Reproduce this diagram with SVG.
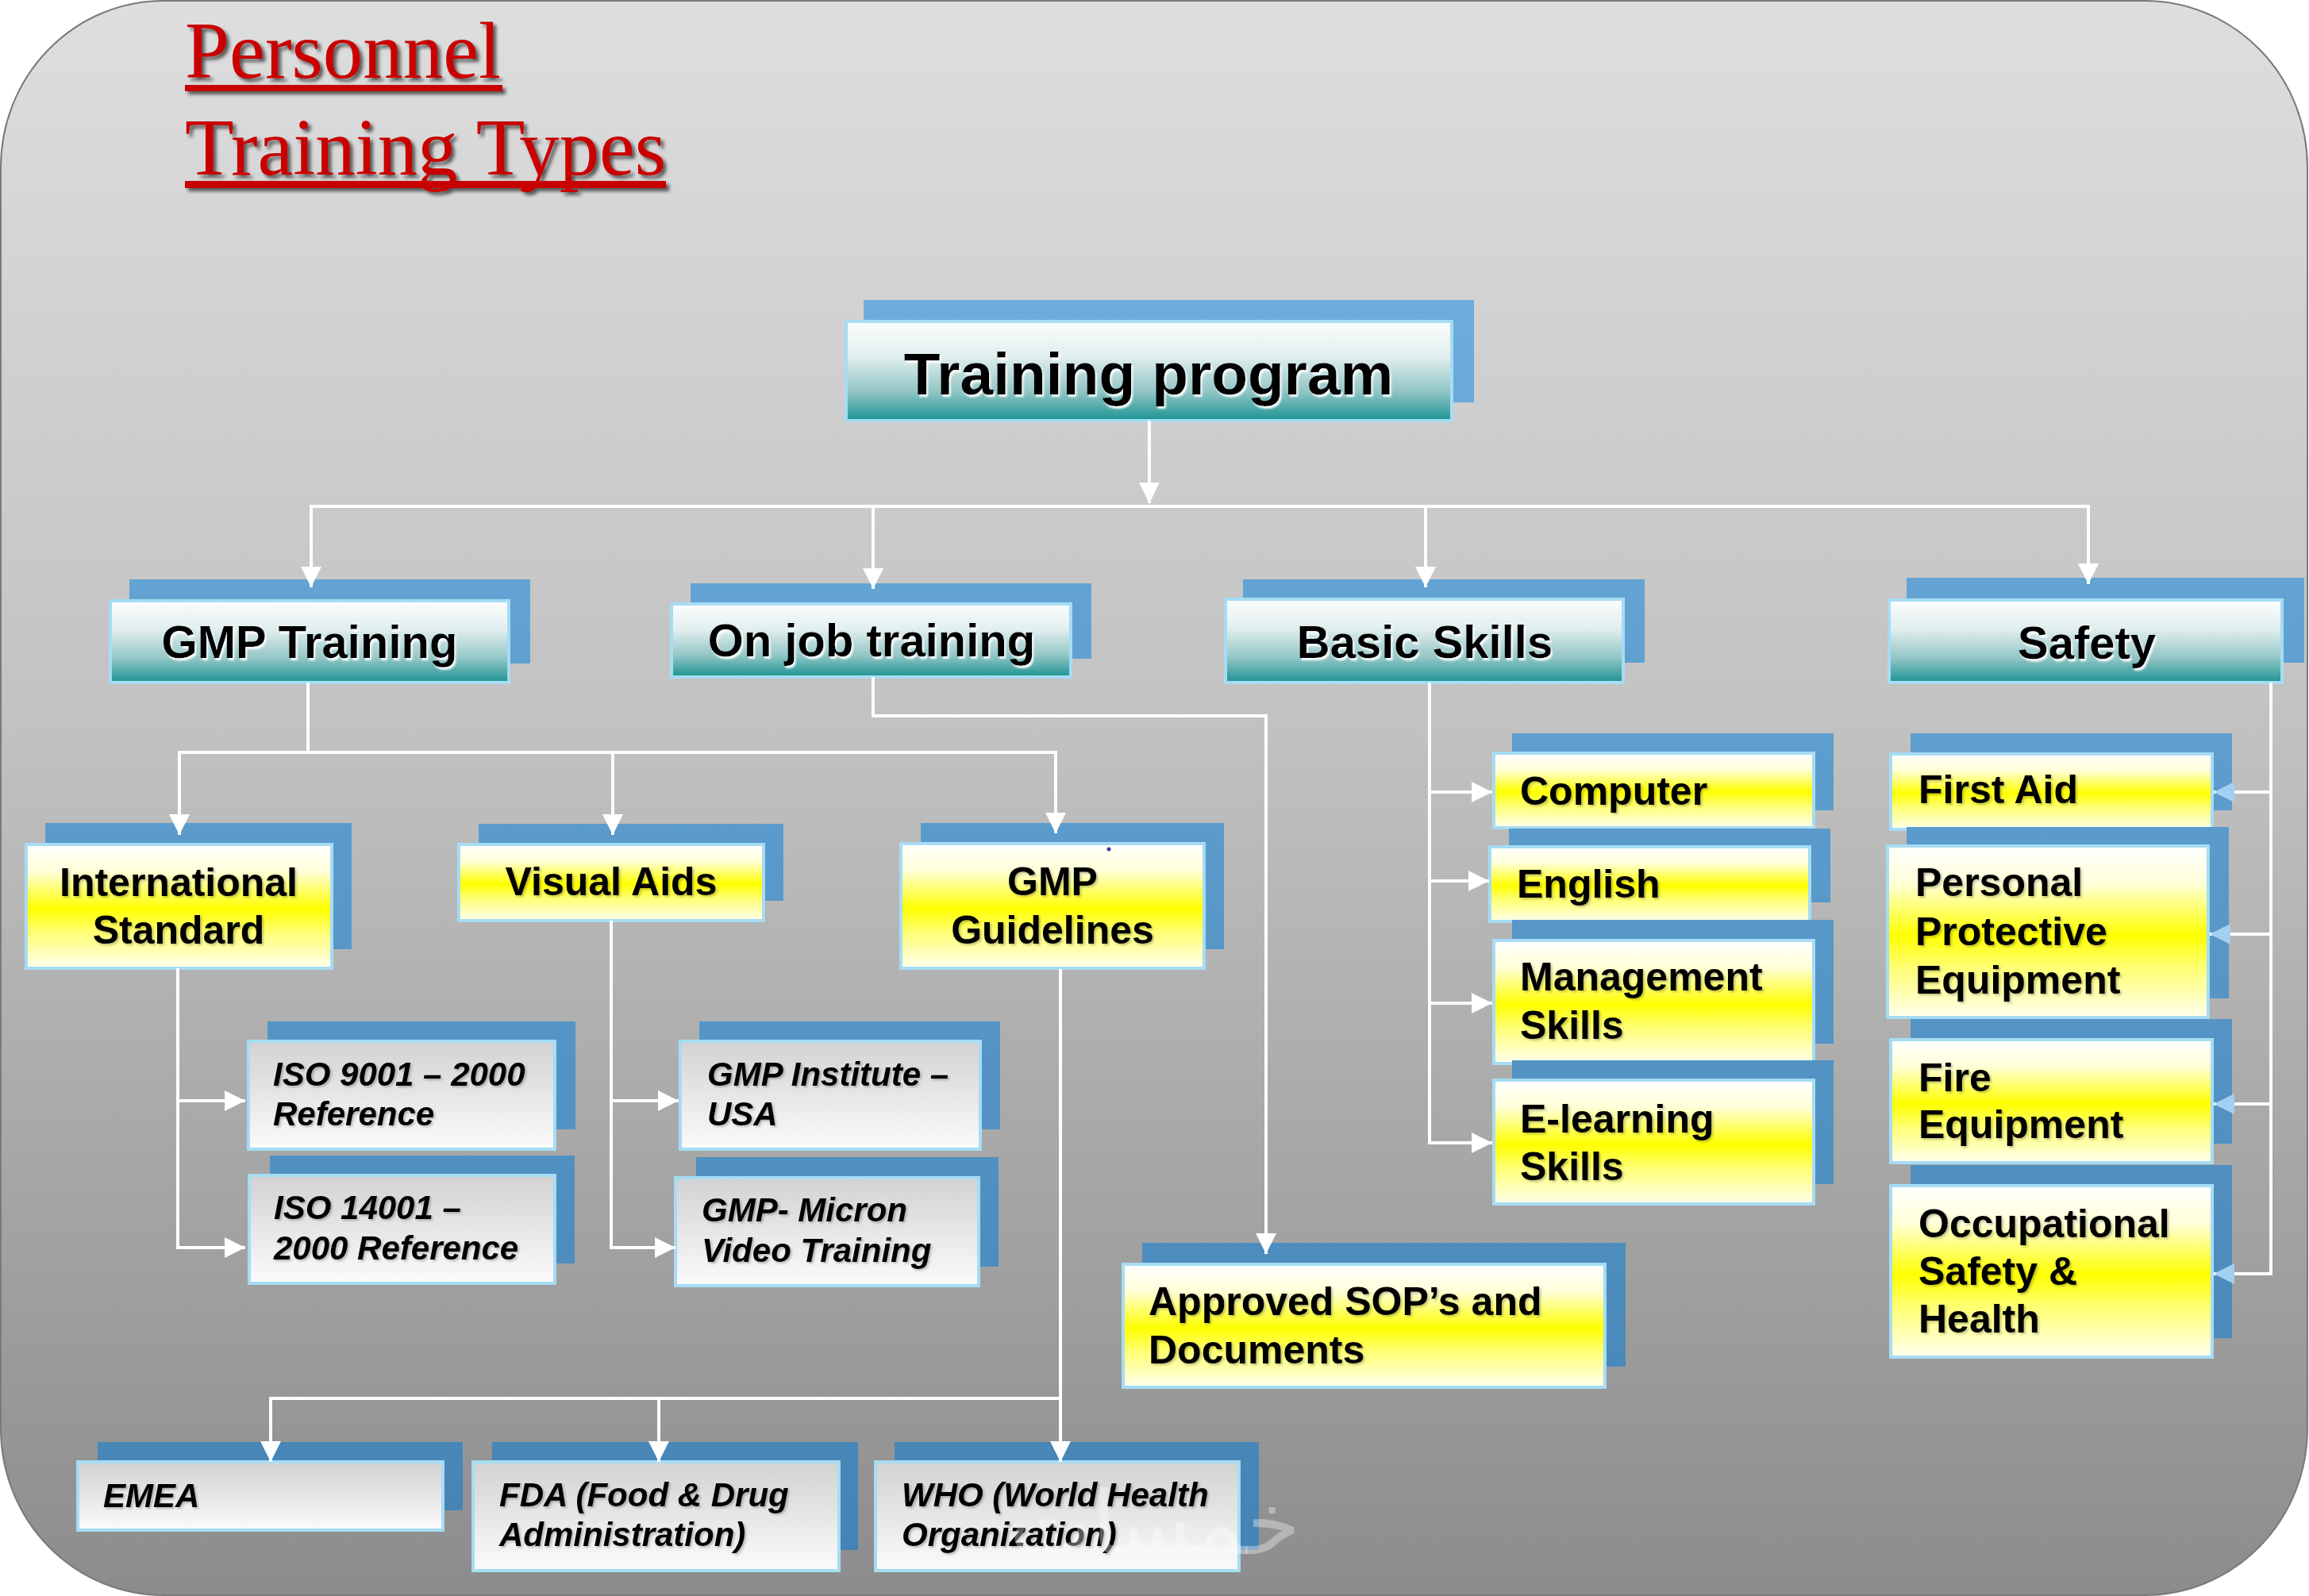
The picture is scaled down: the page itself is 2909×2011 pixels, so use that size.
<svg xmlns="http://www.w3.org/2000/svg" width="2909" height="2011" viewBox="0 0 2909 2011">
<style>
.back{fill:url(#blueG)}
.teal{fill:url(#tealG);stroke:#a6dcf4;stroke-width:4}
.yel{fill:url(#yelG);stroke:#a6dcf4;stroke-width:4}
.gray{fill:url(#grayG);stroke:#a6dcf4;stroke-width:4}
.t1{font-family:"Liberation Sans",Arial,sans-serif;font-weight:bold;font-size:75px;fill:#000;text-anchor:middle}
.t2{font-family:"Liberation Sans",Arial,sans-serif;font-weight:bold;font-size:58px;fill:#000;text-anchor:middle}
.ty{font-family:"Liberation Sans",Arial,sans-serif;font-weight:bold;font-size:50px;fill:#000}
.tc{text-anchor:middle}
.ti{font-family:"Liberation Sans",Arial,sans-serif;font-weight:bold;font-style:italic;font-size:42px;fill:#000}
.title{font-family:"Liberation Serif","Times New Roman",serif;font-size:102px;fill:#c80000}
.con{fill:none;stroke:#ffffff;stroke-width:4}
</style>
<defs>
<linearGradient id="bgG" x1="0" y1="0" x2="0" y2="1">
<stop offset="0" stop-color="#dedede"/>
<stop offset="0.45" stop-color="#c2c2c2"/>
<stop offset="1" stop-color="#8c8c8c"/>
</linearGradient>
<linearGradient id="blueG" gradientUnits="userSpaceOnUse" x1="0" y1="370" x2="0" y2="1960">
<stop offset="0" stop-color="#6caddd"/>
<stop offset="1" stop-color="#4483b4"/>
</linearGradient>
<linearGradient id="tealG" x1="0" y1="0" x2="0" y2="1">
<stop offset="0" stop-color="#fbfdfd"/>
<stop offset="0.35" stop-color="#e2eeee"/>
<stop offset="0.7" stop-color="#94c6c6"/>
<stop offset="1" stop-color="#1c9393"/>
</linearGradient>
<linearGradient id="yelG" x1="0" y1="0" x2="0" y2="1">
<stop offset="0" stop-color="#ffffff"/>
<stop offset="0.22" stop-color="#ffffd8"/>
<stop offset="0.52" stop-color="#ffff00"/>
<stop offset="0.7" stop-color="#ffff70"/>
<stop offset="1" stop-color="#ffffee"/>
</linearGradient>
<linearGradient id="grayG" x1="0" y1="0" x2="0" y2="1">
<stop offset="0" stop-color="#d2d2d2"/>
<stop offset="1" stop-color="#fbfbfb"/>
</linearGradient>
<filter id="glow" x="-5%" y="-20%" width="110%" height="150%">
<feDropShadow dx="2" dy="3" stdDeviation="1.2" flood-color="#ffffff" flood-opacity="0.95"/>
</filter>
<filter id="sh" x="-5%" y="-20%" width="110%" height="150%">
<feDropShadow dx="2" dy="2" stdDeviation="1.5" flood-color="#000000" flood-opacity="0.25"/>
</filter>
<filter id="tsh" x="-5%" y="-20%" width="115%" height="160%">
<feDropShadow dx="4" dy="4" stdDeviation="2" flood-color="#000000" flood-opacity="0.6"/>
</filter>
<marker id="arr" viewBox="0 0 26 26" refX="26" refY="13" markerWidth="26" markerHeight="26" markerUnits="userSpaceOnUse" orient="auto">
<path d="M0,0 L26,13 L0,26 z" fill="#ffffff"/>
</marker>
<marker id="arrb" viewBox="0 0 26 26" refX="26" refY="13" markerWidth="26" markerHeight="26" markerUnits="userSpaceOnUse" orient="auto">
<path d="M0,0 L26,13 L0,26 z" fill="#a3d0f1"/>
</marker>
</defs>

<rect x="0" y="0" width="2909" height="2011" fill="#ffffff"/>
<rect id="background" x="1" y="1" width="2906" height="2009" rx="205" ry="210" fill="url(#bgG)" stroke="#7a7a7a" stroke-width="2"/>

<g id="title" filter="url(#tsh)">
<text class="title" x="233" y="98" textLength="398" lengthAdjust="spacingAndGlyphs">Personnel</text>
<rect x="233" y="107" width="400" height="8" fill="#c80000"/>
<text class="title" x="233" y="220" textLength="606" lengthAdjust="spacingAndGlyphs">Training Types</text>
<rect x="233" y="228" width="606" height="9" fill="#c80000"/>
</g>

<g id="training-program">
<rect class="back" x="1088" y="378" width="769" height="129"/>
<rect class="teal" x="1066" y="405" width="763" height="125"/>
<text class="t1" x="1447" y="497" filter="url(#glow)">Training program</text>
</g>

<g id="gmp-training">
<rect class="back" x="163" y="730" width="505" height="106"/>
<rect class="teal" x="139" y="757" width="502" height="103"/>
<text class="t2" x="390" y="829" filter="url(#glow)">GMP Training</text>
</g>

<g id="on-job-training">
<rect class="back" x="870" y="735" width="505" height="95"/>
<rect class="teal" x="846" y="761" width="503" height="92"/>
<text class="t2" x="1098" y="827" filter="url(#glow)">On job training</text>
</g>

<g id="basic-skills">
<rect class="back" x="1566" y="730" width="506" height="105"/>
<rect class="teal" x="1544" y="755" width="501" height="105"/>
<text class="t2" x="1795" y="829" filter="url(#glow)">Basic Skills</text>
</g>

<g id="safety">
<rect class="back" x="2402" y="728" width="501" height="107"/>
<rect class="teal" x="2380" y="756" width="495" height="104"/>
<text class="t2" x="2629" y="830" filter="url(#glow)">Safety</text>
</g>

<g id="international-standard">
<rect class="back" x="57" y="1037" width="386" height="159"/>
<rect class="yel" x="33" y="1064" width="385" height="156"/>
<text class="ty tc" x="225" y="1129" filter="url(#sh)">International</text>
<text class="ty tc" x="225" y="1189" filter="url(#sh)">Standard</text>
</g>

<g id="visual-aids">
<rect class="back" x="603" y="1038" width="384" height="97"/>
<rect class="yel" x="578" y="1064" width="384" height="96"/>
<text class="ty tc" x="770" y="1128" filter="url(#sh)">Visual Aids</text>
</g>

<g id="gmp-guidelines">
<rect class="back" x="1160" y="1037" width="382" height="159"/>
<rect class="yel" x="1135" y="1063" width="382" height="157"/>
<circle cx="1397" cy="1070" r="2.5" fill="#3a3a9a"/>
<text class="ty tc" x="1326" y="1128" filter="url(#sh)">GMP</text>
<text class="ty tc" x="1326" y="1189" filter="url(#sh)">Guidelines</text>
</g>

<g id="iso-9001">
<rect class="back" x="337" y="1287" width="388" height="136"/>
<rect class="gray" x="313" y="1312" width="386" height="136"/>
<text class="ti" x="344" y="1368" filter="url(#sh)">ISO 9001 – 2000</text>
<text class="ti" x="344" y="1418" filter="url(#sh)">Reference</text>
</g>

<g id="iso-14001">
<rect class="back" x="340" y="1456" width="384" height="136"/>
<rect class="gray" x="314" y="1481" width="385" height="136"/>
<text class="ti" x="345" y="1536" filter="url(#sh)">ISO 14001 –</text>
<text class="ti" x="345" y="1587" filter="url(#sh)">2000 Reference</text>
</g>

<g id="gmp-institute">
<rect class="back" x="881" y="1287" width="379" height="136"/>
<rect class="gray" x="857" y="1312" width="378" height="136"/>
<text class="ti" x="891" y="1368" filter="url(#sh)">GMP Institute –</text>
<text class="ti" x="891" y="1418" filter="url(#sh)">USA</text>
</g>

<g id="gmp-micron">
<rect class="back" x="877" y="1458" width="381" height="138"/>
<rect class="gray" x="851" y="1484" width="382" height="136"/>
<text class="ti" x="884" y="1539" filter="url(#sh)">GMP- Micron</text>
<text class="ti" x="884" y="1590" filter="url(#sh)">Video Training</text>
</g>

<g id="computer">
<rect class="back" x="1905" y="924" width="405" height="97"/>
<rect class="yel" x="1882" y="949" width="403" height="94"/>
<text class="ty" x="1915" y="1014" filter="url(#sh)">Computer</text>
</g>

<g id="english">
<rect class="back" x="1901" y="1044" width="405" height="93"/>
<rect class="yel" x="1877" y="1067" width="403" height="94"/>
<text class="ty" x="1911" y="1131" filter="url(#sh)">English</text>
</g>

<g id="management-skills">
<rect class="back" x="1905" y="1159" width="405" height="156"/>
<rect class="yel" x="1882" y="1185" width="403" height="155"/>
<text class="ty" x="1915" y="1248" filter="url(#sh)">Management</text>
<text class="ty" x="1915" y="1309" filter="url(#sh)">Skills</text>
</g>

<g id="e-learning-skills">
<rect class="back" x="1905" y="1336" width="405" height="156"/>
<rect class="yel" x="1882" y="1361" width="403" height="156"/>
<text class="ty" x="1915" y="1427" filter="url(#sh)">E-learning</text>
<text class="ty" x="1915" y="1487" filter="url(#sh)">Skills</text>
</g>

<g id="first-aid">
<rect class="back" x="2407" y="924" width="405" height="97"/>
<rect class="yel" x="2382" y="950" width="405" height="95"/>
<text class="ty" x="2417" y="1012" filter="url(#sh)">First Aid</text>
</g>

<g id="personal-protective-equipment">
<rect class="back" x="2402" y="1042" width="406" height="216"/>
<rect class="yel" x="2378" y="1066" width="404" height="216"/>
<text class="ty" x="2413" y="1129" filter="url(#sh)">Personal</text>
<text class="ty" x="2413" y="1191" filter="url(#sh)">Protective</text>
<text class="ty" x="2413" y="1252" filter="url(#sh)">Equipment</text>
</g>

<g id="fire-equipment">
<rect class="back" x="2407" y="1284" width="405" height="157"/>
<rect class="yel" x="2382" y="1310" width="405" height="155"/>
<text class="ty" x="2417" y="1375" filter="url(#sh)">Fire</text>
<text class="ty" x="2417" y="1434" filter="url(#sh)">Equipment</text>
</g>

<g id="occupational-safety-health">
<rect class="back" x="2407" y="1468" width="405" height="218"/>
<rect class="yel" x="2382" y="1494" width="405" height="216"/>
<text class="ty" x="2417" y="1559" filter="url(#sh)">Occupational</text>
<text class="ty" x="2417" y="1619" filter="url(#sh)">Safety &amp;</text>
<text class="ty" x="2417" y="1679" filter="url(#sh)">Health</text>
</g>

<g id="approved-sops">
<rect class="back" x="1439" y="1566" width="609" height="156"/>
<rect class="yel" x="1415" y="1593" width="607" height="155"/>
<text class="ty" x="1447" y="1657" filter="url(#sh)">Approved SOP’s and</text>
<text class="ty" x="1447" y="1718" filter="url(#sh)">Documents</text>
</g>

<g id="emea">
<rect class="back" x="123" y="1817" width="460" height="86"/>
<rect class="gray" x="98" y="1842" width="460" height="86"/>
<text class="ti" x="130" y="1899" filter="url(#sh)">EMEA</text>
</g>

<g id="fda">
<rect class="back" x="620" y="1817" width="461" height="136"/>
<rect class="gray" x="596" y="1842" width="461" height="137"/>
<text class="ti" x="629" y="1898" filter="url(#sh)">FDA (Food &amp; Drug</text>
<text class="ti" x="629" y="1948" filter="url(#sh)">Administration)</text>
</g>

<g id="who">
<rect class="back" x="1127" y="1817" width="459" height="136"/>
<rect class="gray" x="1103" y="1842" width="458" height="137"/>
<text class="ti" x="1136" y="1898" filter="url(#sh)">WHO (World Health</text>
<text class="ti" x="1136" y="1948" filter="url(#sh)">Organization)</text>
</g>

<g id="connectors">
<path class="con" d="M1448,530 V634" marker-end="url(#arr)"/>
<path class="con" d="M390,638 H2633"/>
<path class="con" d="M392,638 V740" marker-end="url(#arr)"/>
<path class="con" d="M1100,638 V742" marker-end="url(#arr)"/>
<path class="con" d="M1796,638 V740" marker-end="url(#arr)"/>
<path class="con" d="M2631,638 V736" marker-end="url(#arr)"/>

<path class="con" d="M388,860 V948"/>
<path class="con" d="M224,948 H1332"/>
<path class="con" d="M226,948 V1052" marker-end="url(#arr)"/>
<path class="con" d="M772,948 V1052" marker-end="url(#arr)"/>
<path class="con" d="M1330,948 V1050" marker-end="url(#arr)"/>

<path class="con" d="M224,1220 V1572 H309" marker-end="url(#arr)"/>
<path class="con" d="M224,1387 H309" marker-end="url(#arr)"/>
<path class="con" d="M770,1160 V1572 H851" marker-end="url(#arr)"/>
<path class="con" d="M770,1387 H855" marker-end="url(#arr)"/>

<path class="con" d="M1336,1221 V1842" marker-end="url(#arr)"/>
<path class="con" d="M339,1762 H1336"/>
<path class="con" d="M341,1762 V1842" marker-end="url(#arr)"/>
<path class="con" d="M830,1762 V1842" marker-end="url(#arr)"/>

<path class="con" d="M1100,853 V902 H1595 V1580" marker-end="url(#arr)"/>

<path class="con" d="M1801,860 V1440 H1880" marker-end="url(#arr)"/>
<path class="con" d="M1801,998 H1880" marker-end="url(#arr)"/>
<path class="con" d="M1801,1110 H1876" marker-end="url(#arr)"/>
<path class="con" d="M1801,1264 H1880" marker-end="url(#arr)"/>

<path class="con" d="M2861,860 V1605 H2789" marker-end="url(#arrb)"/>
<path class="con" d="M2861,998 H2789" marker-end="url(#arrb)"/>
<path class="con" d="M2861,1177 H2784" marker-end="url(#arrb)"/>
<path class="con" d="M2861,1391 H2789" marker-end="url(#arrb)"/>
</g>

<text id="watermark" x="1455" y="1958" font-family="'DejaVu Sans',sans-serif" font-size="110" fill="#ffffff" fill-opacity="0.35" text-anchor="middle">خمسات</text>
</svg>
